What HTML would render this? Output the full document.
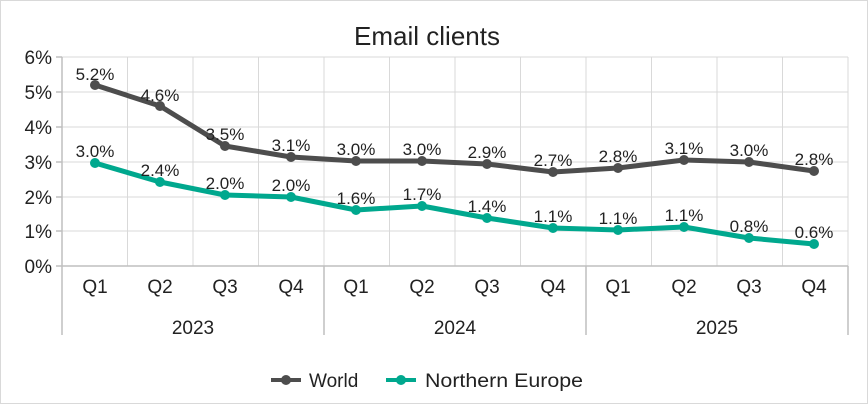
<!DOCTYPE html><html><head><style>body{margin:0;background:#fff}svg{display:block}text{font-family:"Liberation Sans",sans-serif;fill:#222}</style></head><body>
<svg width="868" height="404" viewBox="0 0 868 404">
<rect x="0.5" y="0.5" width="867" height="403" fill="#fff" stroke="#d9d9d9"/>
<text x="427" y="45" font-size="26" text-anchor="middle">Email clients</text>
<g stroke="#d9d9d9" stroke-width="1">
<line x1="62" x2="848" y1="57" y2="57"/><line x1="62" x2="848" y1="92" y2="92"/><line x1="62" x2="848" y1="127" y2="127"/><line x1="62" x2="848" y1="162" y2="162"/><line x1="62" x2="848" y1="197" y2="197"/><line x1="62" x2="848" y1="231" y2="231"/>
<line x1="127.5" x2="127.5" y1="57" y2="266"/><line x1="193" x2="193" y1="57" y2="266"/><line x1="258.5" x2="258.5" y1="57" y2="266"/><line x1="324" x2="324" y1="57" y2="266"/><line x1="389.5" x2="389.5" y1="57" y2="266"/><line x1="455" x2="455" y1="57" y2="266"/><line x1="520.5" x2="520.5" y1="57" y2="266"/><line x1="586" x2="586" y1="57" y2="266"/><line x1="651.5" x2="651.5" y1="57" y2="266"/><line x1="717" x2="717" y1="57" y2="266"/><line x1="782.5" x2="782.5" y1="57" y2="266"/><line x1="848" x2="848" y1="57" y2="266"/>
</g>
<g stroke="#bfbfbf" stroke-width="1.5">
<line x1="62" x2="62" y1="57" y2="335"/><line x1="62" x2="848" y1="266" y2="266"/>
<line x1="324" x2="324" y1="266" y2="335"/><line x1="586" x2="586" y1="266" y2="335"/><line x1="848" x2="848" y1="266" y2="335"/>
<line x1="56" x2="62" y1="57" y2="57"/><line x1="56" x2="62" y1="92" y2="92"/><line x1="56" x2="62" y1="127" y2="127"/><line x1="56" x2="62" y1="162" y2="162"/><line x1="56" x2="62" y1="197" y2="197"/><line x1="56" x2="62" y1="231" y2="231"/><line x1="56" x2="62" y1="266" y2="266"/>
</g>
<g font-size="19" text-anchor="end">
<text x="52" y="64">6%</text><text x="52" y="99">5%</text><text x="52" y="134">4%</text><text x="52" y="169">3%</text><text x="52" y="204">2%</text><text x="52" y="238">1%</text><text x="52" y="273">0%</text>
</g>
<g font-size="19" text-anchor="middle">
<text x="95" y="293">Q1</text><text x="160" y="293">Q2</text><text x="225" y="293">Q3</text><text x="291" y="293">Q4</text>
<text x="356" y="293">Q1</text><text x="422" y="293">Q2</text><text x="487" y="293">Q3</text><text x="553" y="293">Q4</text>
<text x="618" y="293">Q1</text><text x="684" y="293">Q2</text><text x="749" y="293">Q3</text><text x="814" y="293">Q4</text>
<text x="193" y="334">2023</text><text x="455" y="334">2024</text><text x="717" y="334">2025</text>
</g>
<polyline fill="none" stroke="#4d4d4d" stroke-width="5" stroke-linejoin="round" points="95,85 160,106 225,146 291,157 356,161 422,161 487,164 553,172 618,168 684,160 749,162 814,171"/>
<g fill="#4d4d4d"><circle cx="95" cy="85" r="5"/><circle cx="160" cy="106" r="5"/><circle cx="225" cy="146" r="5"/><circle cx="291" cy="157" r="5"/><circle cx="356" cy="161" r="5"/><circle cx="422" cy="161" r="5"/><circle cx="487" cy="164" r="5"/><circle cx="553" cy="172" r="5"/><circle cx="618" cy="168" r="5"/><circle cx="684" cy="160" r="5"/><circle cx="749" cy="162" r="5"/><circle cx="814" cy="171" r="5"/></g>
<polyline fill="none" stroke="#00a88e" stroke-width="5" stroke-linejoin="round" points="95,163 160,182 225,195 291,197 356,210 422,206 487,218 553,228 618,230 684,227 749,238 814,244"/>
<g fill="#00a88e"><circle cx="95" cy="163" r="5"/><circle cx="160" cy="182" r="5"/><circle cx="225" cy="195" r="5"/><circle cx="291" cy="197" r="5"/><circle cx="356" cy="210" r="5"/><circle cx="422" cy="206" r="5"/><circle cx="487" cy="218" r="5"/><circle cx="553" cy="228" r="5"/><circle cx="618" cy="230" r="5"/><circle cx="684" cy="227" r="5"/><circle cx="749" cy="238" r="5"/><circle cx="814" cy="244" r="5"/></g>
<g font-size="17" text-anchor="middle">
<text x="95" y="80">5.2%</text><text x="160" y="101">4.6%</text><text x="225" y="140">3.5%</text><text x="291" y="151">3.1%</text><text x="356" y="155">3.0%</text><text x="422" y="155">3.0%</text><text x="487" y="158">2.9%</text><text x="553" y="166">2.7%</text><text x="618" y="162">2.8%</text><text x="684" y="154">3.1%</text><text x="749" y="156">3.0%</text><text x="814" y="165">2.8%</text>
<text x="95" y="157">3.0%</text><text x="160" y="176">2.4%</text><text x="225" y="189">2.0%</text><text x="291" y="191">2.0%</text><text x="356" y="204">1.6%</text><text x="422" y="200">1.7%</text><text x="487" y="212">1.4%</text><text x="553" y="222">1.1%</text><text x="618" y="224">1.1%</text><text x="684" y="221">1.1%</text><text x="749" y="232">0.8%</text><text x="814" y="238">0.6%</text>
</g>
<line x1="271" x2="301" y1="380" y2="380" stroke="#4d4d4d" stroke-width="4"/><circle cx="286" cy="380" r="5" fill="#4d4d4d"/>
<text x="309" y="387" font-size="19">World</text>
<line x1="386" x2="416" y1="380" y2="380" stroke="#00a88e" stroke-width="4"/><circle cx="401" cy="380" r="5" fill="#00a88e"/>
<text x="425" y="387" font-size="19" textLength="158" lengthAdjust="spacingAndGlyphs">Northern Europe</text>
</svg>
</body></html>
